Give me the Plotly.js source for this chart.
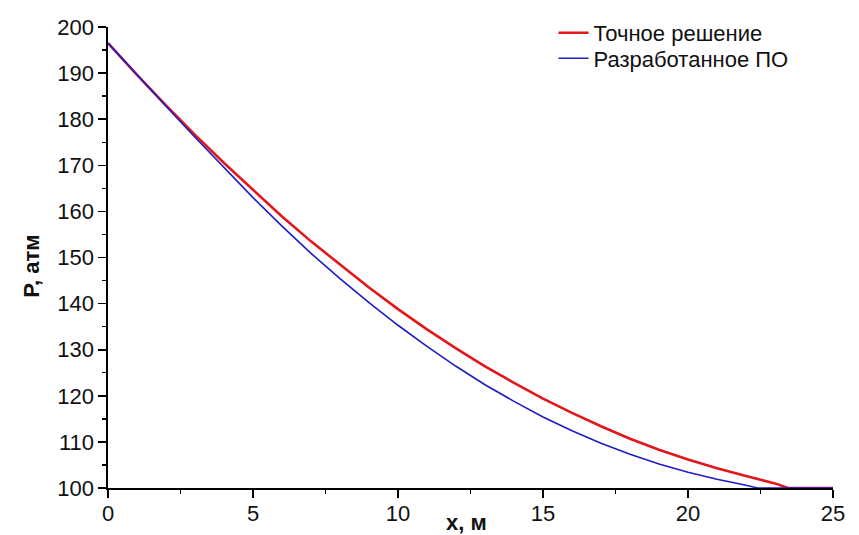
<!DOCTYPE html>
<html>
<head>
<meta charset="utf-8">
<script src="https://cdn.plot.ly/plotly-3.0.1.min.js"></script>
<style>html,body{margin:0;padding:0;background:#fff;}#chart{width:859px;height:535px;}</style>
</head>
<body>
<div id="chart"></div>
<script>
// x coordinate, m
const xExact = [0, 1, 2, 3, 4, 5, 6, 7, 8, 9, 10, 11, 12, 13, 14, 15, 16, 17, 18, 19, 20, 21, 22, 23, 23.45, 24, 25];
// exact solution, atm
const pExact = [196.5, 189.6, 183.0, 176.6, 170.5, 164.6, 158.9, 153.5, 148.4, 143.5, 138.8, 134.4, 130.3, 126.4, 122.8, 119.4, 116.3, 113.4, 110.7, 108.3, 106.2, 104.3, 102.6, 101.0, 100.0, 100.0, 100.0];
const xSoft = [0, 1, 2, 3, 4, 5, 6, 7, 8, 9, 10, 11, 12, 13, 14, 15, 16, 17, 18, 19, 20, 21, 22, 22.4, 23, 24, 25];
// developed software, atm
const pSoft = [196.5, 189.6, 182.8, 176.1, 169.5, 163.0, 156.8, 150.9, 145.4, 140.2, 135.3, 130.7, 126.4, 122.4, 118.8, 115.4, 112.4, 109.7, 107.3, 105.2, 103.4, 101.9, 100.6, 100.0, 100.0, 100.0, 100.0];

const names = ['Точное решение', 'Разработанное ПО'];
const xTitle = 'x, м';
const yTitle = 'P, атм';

const font = 'Liberation Sans, Arial, sans-serif';

const traces = [
  {x: xExact, y: pExact, name: names[0], type: 'scatter', mode: 'lines', legend: 'legend',
   line: {color: '#e3161b', width: 2.6}},
  {x: xSoft, y: pSoft, name: names[1], type: 'scatter', mode: 'lines', legend: 'legend2',
   line: {color: '#1c1cc8', width: 1.6}}
];

const axisCommon = {
  showgrid: false, zeroline: false, showline: true, linecolor: '#000', linewidth: 1.6,
  ticks: 'outside', ticklen: 8, tickwidth: 1.6, tickcolor: '#000',
  tickfont: {family: font, size: 22, color: '#111'},
  mirror: false
};

const legendCommon = {xanchor: 'left', yanchor: 'top', bgcolor: 'rgba(0,0,0,0)',
  font: {family: font, size: 22, color: '#111'}, itemwidth: 30};

const layout = {
  width: 859, height: 535,
  margin: {l: 108, r: 26, t: 18, b: 47},
  paper_bgcolor: '#fff', plot_bgcolor: '#fff',
  showlegend: true,
  legend: Object.assign({}, legendCommon, {x: 0.6145, y: 1.0328}),
  legend2: Object.assign({}, legendCommon, {x: 0.6145, y: 0.9774}),
  xaxis: Object.assign({}, axisCommon, {
    range: [0, 25], tickvals: [0, 5, 10, 15, 20, 25], ticklabelstandoff: -3,
    minor: {dtick: 2.5, tick0: 0, ticks: 'outside', ticklen: 4, tickwidth: 1.4, tickcolor: '#000'}
  }),
  yaxis: Object.assign({}, axisCommon, {
    range: [100, 200], tickvals: [100, 110, 120, 130, 140, 150, 160, 170, 180, 190, 200],
    minor: {dtick: 5, tick0: 100, ticks: 'outside', ticklen: 4, tickwidth: 1.4, tickcolor: '#000'}
  }),
  annotations: [
    {text: '<b>' + xTitle + '</b>', xref: 'paper', yref: 'paper', x: 0.495, y: 0, xanchor: 'center', yanchor: 'middle',
     yshift: -34, showarrow: false, font: {family: font, size: 22, color: '#111'}},
    {text: '<b>' + yTitle + '</b>', xref: 'paper', yref: 'paper', x: 0, y: 0.48, xanchor: 'center', yanchor: 'middle',
     xshift: -76, textangle: -90, showarrow: false, font: {family: font, size: 22, color: '#111'}}
  ]
};

Plotly.newPlot('chart', traces, layout, {displayModeBar: false, staticPlot: true});
</script>
</body>
</html>
